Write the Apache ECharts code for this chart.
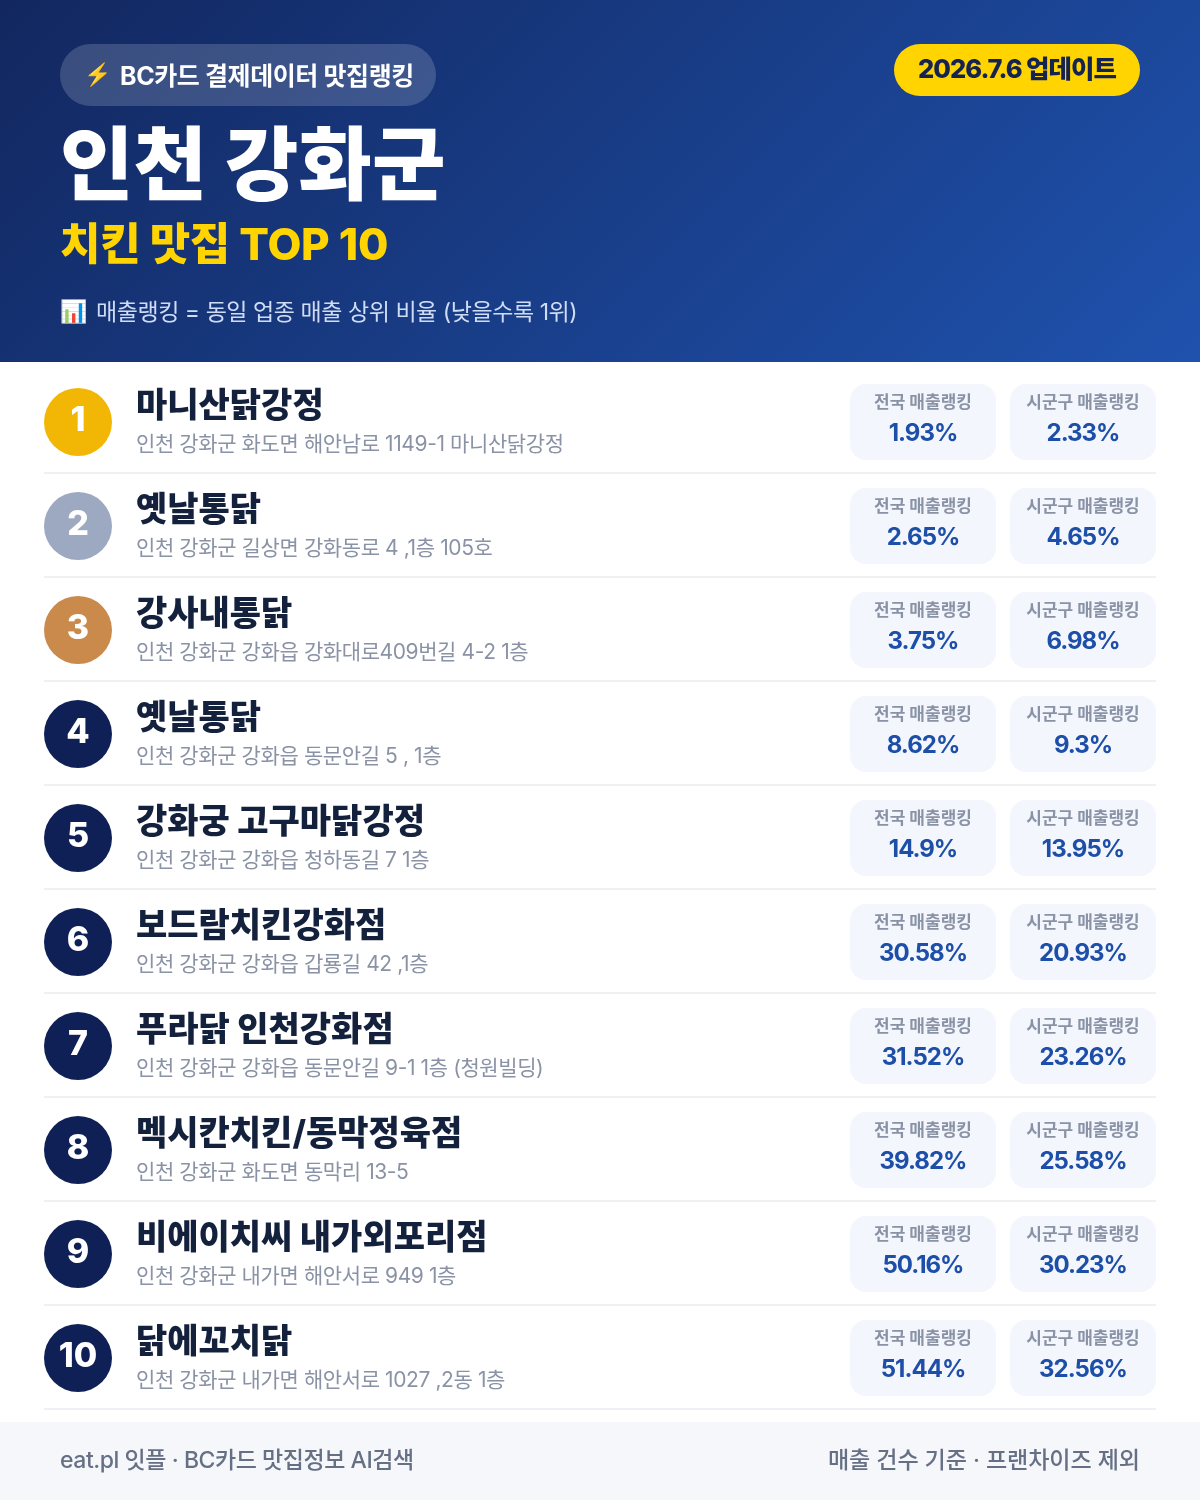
<!DOCTYPE html>
<html><head><meta charset="utf-8">
<style>html,body{margin:0;padding:0;background:#fff}#c{width:1200px;height:1500px}</style>
<script src="https://cdn.jsdelivr.net/npm/echarts@6/dist/echarts.min.js"></script>
</head><body><div id="c"></div>
<script>
const ranks=[1,2,3,4,5,6,7,8,9,10];
const names=['마니산닭강정','옛날통닭','강사내통닭','옛날통닭','강화궁 고구마닭강정','보드람치킨강화점','푸라닭 인천강화점','멕시칸치킨/동막정육점','비에이치씨 내가외포리점','닭에꼬치닭'];
const addresses=['인천 강화군 화도면 해안남로 1149-1 마니산닭강정','인천 강화군 길상면 강화동로 4 ,1층 105호','인천 강화군 강화읍 강화대로409번길 4-2 1층','인천 강화군 강화읍 동문안길 5 , 1층','인천 강화군 강화읍 청하동길 7 1층','인천 강화군 강화읍 갑룡길 42 ,1층','인천 강화군 강화읍 동문안길 9-1 1층 (청원빌딩)','인천 강화군 화도면 동막리 13-5','인천 강화군 내가면 해안서로 949 1층','인천 강화군 내가면 해안서로 1027 ,2동 1층'];
const nationalRank=[1.93,2.65,3.75,8.62,14.9,30.58,31.52,39.82,50.16,51.44];
const districtRank=[2.33,4.65,6.98,9.3,13.95,20.93,23.26,25.58,30.23,32.56];
const F='Inter,"Noto Sans CJK KR",sans-serif';
const medal=['#f2b705','#9ca9c0','#c98a4b'],navy='#0f2057';
// tracking per font size
const tracking={44:-0.3,25.5:-1,25:-0.4,24:-1,23.1:-0.1,23:-0.45,21:-0.4};
const origFill=CanvasRenderingContext2D.prototype.fillText;
CanvasRenderingContext2D.prototype.fillText=function(t,x,y,m){
 const s=parseFloat((this.font.match(/([\d.]+)px/)||[])[1]);
 this.letterSpacing=(tracking[s]||0)+'px';
 const r=m===undefined?origFill.call(this,t,x,y):origFill.call(this,t,x,y,m);
 this.letterSpacing='0px';
 return r;
};
function T(x,y,text,size,weight,fill,align){return {type:'text',x,y,silent:true,style:{text,x:0,y:0,font:`${weight} ${size}px ${F}`,fill,align:align||'left',verticalAlign:'middle'}};}
function card(x,y,label,val){return [
 {type:'rect',shape:{x,y:y-38,width:146,height:76,r:16},style:{fill:'#f3f6fd'}},
 T(x+73,y-19,label,17,700,'#8a93a6','center'),
 T(x+73,y+12,val+'%',24,700,'#1e4fa8','center')];}
function renderRow(params,api){
 const i=api.value(0), y=api.coord([0,i])[1], rowH=api.size([0,1])[1];
 const ch=[
  {type:'rect',shape:{x:44,y:y+rowH/2-2,width:1112,height:2},style:{fill:'#eef0f4'}},
  {type:'circle',shape:{cx:78,cy:y,r:34},style:{fill:i<3?medal[i]:navy}},
  T(78,y-1,String(ranks[i]),34,800,'#fff','center'),
  T(136,y-15,names[i],34,800,'#14213d'),
  T(136,y+23,addresses[i],21,400,'#8a93a6')
 ].concat(card(850,y,'전국 매출랭킹',nationalRank[i]),card(1010,y,'시군구 매출랭킹',districtRank[i]));
 return {type:'group',children:ch};
}
const chart=echarts.init(document.getElementById('c'),null,{renderer:'canvas'});
chart.setOption({
 animation:false,
 grid:{left:0,right:0,top:370,height:1040},
 xAxis:{type:'value',min:0,max:100,show:false},
 yAxis:{type:'category',inverse:true,data:names.map((n,i)=>i),show:false},
 graphic:[
  {type:'rect',z:-1,shape:{x:0,y:0,width:1200,height:362},style:{fill:new echarts.graphic.LinearGradient(209.5,-209.5,990.5,571.5,[{offset:0,color:'#12275f'},{offset:1,color:'#1f52ae'}],true)}},
  {type:'rect',shape:{x:60,y:44,width:376,height:62,r:31},style:{fill:'rgba(255,255,255,0.17)'}},
  T(84,75,'⚡',22,400,'#ffcc33'),
  T(120,77,'BC카드 결제데이터 맛집랭킹',25,700,'#fff'),
  {type:'rect',shape:{x:894,y:44,width:246,height:52,r:26},style:{fill:'#ffd400'}},
  T(1017,70,'2026.7.6 업데이트',25.5,800,'#14234f','center'),
  T(60,169,'인천 강화군',80,800,'#fff'),
  T(60,247,'치킨 맛집 TOP 10',44,800,'#ffd400'),
  T(60,312,'📊',22,400,'#fff'),
  T(96,313,'매출랭킹 = 동일 업종 매출 상위 비율 (낮을수록 1위)',23,400,'#cfdcf5'),
  {type:'rect',shape:{x:0,y:1422,width:1200,height:78},style:{fill:'#f5f7fb'}},
  T(60,1461,'eat.pl 잇플 · BC카드 맛집정보 AI검색',23,500,'#667085'),
  T(1140,1461,'매출 건수 기준 · 프랜차이즈 제외',23.1,500,'#667085','right')
 ],
 series:[{type:'custom',renderItem:renderRow,clip:false,encode:{y:0},data:ranks.map((r,i)=>[i])}]
});
</script></body></html>
